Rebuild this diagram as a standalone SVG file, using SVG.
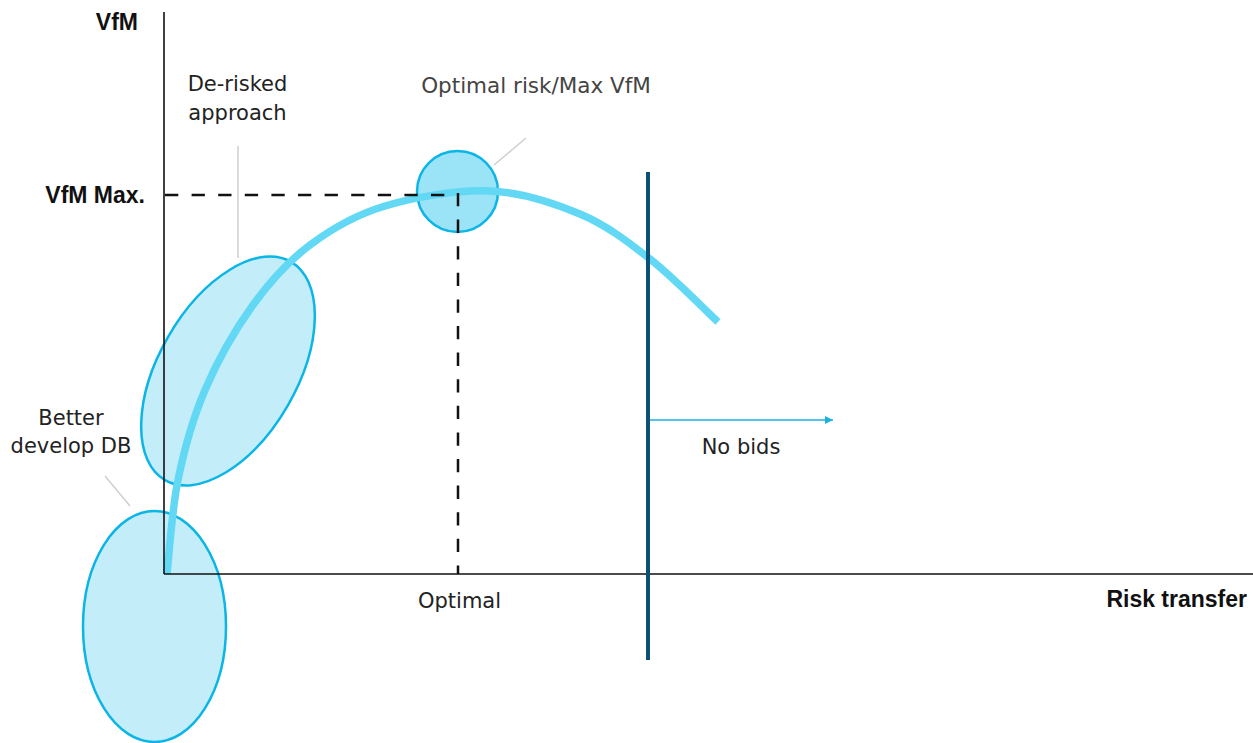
<svg xmlns="http://www.w3.org/2000/svg" width="1253" height="743" viewBox="0 0 1253 743">
<defs>
<style>
.blob{fill:#c3eef9;stroke:#0bb5e5;stroke-width:2.5}
.lead{stroke:#cfcfcf;stroke-width:1.5;fill:none}
.dash{stroke:#111;stroke-width:2.5;stroke-dasharray:13.3 13.3;fill:none}
.axis{stroke:#111;stroke-width:1.6;fill:none}
.lbl{font-family:"DejaVu Sans",sans-serif;font-size:21px;fill:#222}
.bold{font-family:"Liberation Sans",Arial,sans-serif;font-size:23px;font-weight:bold;fill:#111}
</style>
<marker id="arr" viewBox="0 0 10 10" refX="10" refY="5" markerWidth="10" markerHeight="8" markerUnits="userSpaceOnUse" orient="auto">
<path d="M0,0 L10,5 L0,10 Z" fill="#1ab0e2"/>
</marker>
</defs>
<rect width="1253" height="743" fill="#fff"/>

<g id="node-better-develop">
<ellipse class="blob" cx="154.5" cy="626.5" rx="71.5" ry="115.5"/>
</g>
<g id="node-derisked">
<ellipse class="blob" cx="228" cy="371" rx="126" ry="69" transform="rotate(-60 228 371)"/>
</g>
<g id="node-optimal-circle">
<circle cx="457.5" cy="191.5" r="40.5" fill="#9be3f6" stroke="#0bb5e5" stroke-width="2.5"/>
</g>

<g id="curve">
<path d="M167,574 C168.8,558.3 171.7,510.7 178,480 C184.3,449.3 192.5,419.2 205,390 C217.5,360.8 235.5,329.2 253,305 C270.5,280.8 288,261.5 310,245 C332,228.5 355,215 385,206 C415,197 457.5,189.7 490,191 C522.5,192.3 553.3,202.7 580,214 C606.7,225.3 627,241 650,259 C673,277 706.7,311.5 718,322" fill="none" stroke="#62d8f5" stroke-width="7.5"/>
</g>

<g id="connectors">
<line class="dash" x1="165" y1="195" x2="446" y2="195"/>
<line class="dash" x1="458" y1="193" x2="458" y2="574"/>
<line class="axis" x1="164" y1="12" x2="164" y2="574"/>
<line class="axis" x1="164" y1="574" x2="1253" y2="574"/>
<line x1="648" y1="172" x2="648" y2="660" stroke="#0c5078" stroke-width="4"/>
<line x1="650" y1="420" x2="833" y2="420" stroke="#1ab0e2" stroke-width="1.5" marker-end="url(#arr)"/>
<line class="lead" x1="238" y1="146" x2="238" y2="258"/>
<line class="lead" x1="494" y1="165" x2="526" y2="138"/>
<line class="lead" x1="105" y1="476" x2="130" y2="506"/>
</g>

<g id="labels">
<text class="bold" x="138" y="30" text-anchor="end">VfM</text>
<text class="bold" x="145" y="203" text-anchor="end">VfM Max.</text>
<text class="bold" x="1247" y="607" text-anchor="end">Risk transfer</text>
<text class="lbl" x="237.5" y="91" text-anchor="middle">De-risked</text>
<text class="lbl" x="237.5" y="120" text-anchor="middle">approach</text>
<text class="lbl" x="536" y="93" text-anchor="middle" style="fill:#444;font-size:21.5px">Optimal risk/Max VfM</text>
<text class="lbl" x="71" y="425" text-anchor="middle">Better</text>
<text class="lbl" x="71" y="453" text-anchor="middle">develop DB</text>
<text class="lbl" x="741" y="454" text-anchor="middle">No bids</text>
<text class="lbl" x="459.5" y="608" text-anchor="middle">Optimal</text>
</g>
</svg>
